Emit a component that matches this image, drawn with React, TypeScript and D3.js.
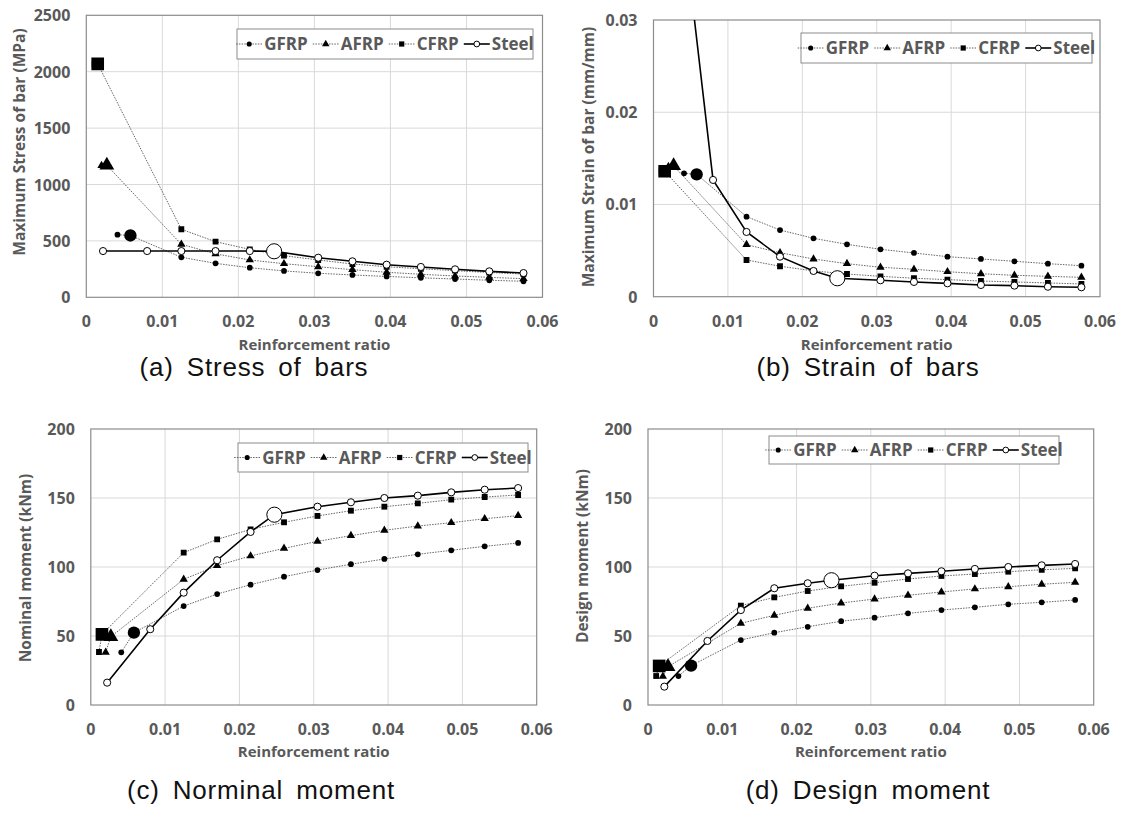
import React, { useRef, useEffect } from "react";
import * as d3 from "d3";

// reinforcement ratio of each point (first point, balanced point, then the regular steps)
const gfrpRatio = [0.0041, 0.0058, 0.0125, 0.017, 0.0215, 0.026, 0.0305, 0.035, 0.0395, 0.044, 0.0485, 0.053, 0.0575];
const afrpRatio = [0.002, 0.0027, 0.0125, 0.017, 0.0215, 0.026, 0.0305, 0.035, 0.0395, 0.044, 0.0485, 0.053, 0.0575];
const cfrpRatio = [0.0011, 0.0015, 0.0125, 0.017, 0.0215, 0.026, 0.0305, 0.035, 0.0395, 0.044, 0.0485, 0.053, 0.0575];
const steelRatio = [0.0022, 0.008, 0.0125, 0.017, 0.0215, 0.0247, 0.0305, 0.035, 0.0395, 0.044, 0.0485, 0.053, 0.0575];
// index of the balanced point (drawn with a big marker)
const balancedIdx = [1, 1, 1, 5];

const seriesNames = ["GFRP", "AFRP", "CFRP", "Steel"];

// (a) stress
const gfrpStress = [555, 548, 355, 301, 262, 234, 213, 198, 185, 173, 162, 151, 142];
const afrpStress = [1167, 1170, 470, 385, 331, 298, 271, 245, 222, 204, 189, 177, 165];
const cfrpStress = [2070, 2070, 603, 493, 425, 369, 331, 295, 271, 253, 236, 220, 206];
const steelStress = [410, 410, 410, 410, 410, 408, 351, 319, 289, 269, 248, 230, 215];

// (b) strain
const gfrpStrain = [0.01338, 0.01327, 0.00868, 0.00723, 0.00633, 0.00568, 0.00514, 0.00474, 0.00434, 0.00409, 0.00384, 0.00358, 0.00336];
const afrpStrain = [0.0141, 0.0142, 0.00564, 0.00477, 0.00409, 0.00358, 0.00319, 0.00297, 0.00271, 0.00249, 0.00232, 0.00221, 0.0021];
const cfrpStrain = [0.0136, 0.0136, 0.00398, 0.0033, 0.0028, 0.00246, 0.00221, 0.002, 0.00185, 0.0017, 0.0016, 0.00149, 0.00138];
const steelStrain = [0.053, 0.01266, 0.00702, 0.00434, 0.00279, 0.002, 0.00178, 0.0016, 0.00145, 0.00127, 0.0012, 0.00108, 0.00102];

// (c) nominal moment
const gfrpNominal = [38.2, 52.4, 71.7, 80.4, 87.2, 93, 97.8, 102, 105.8, 109.2, 112.1, 115, 117.4];
const afrpNominal = [38.2, 49.5, 91.1, 101, 108, 113.5, 118.6, 122.7, 126.6, 129.7, 132.1, 135, 137.2];
const cfrpNominal = [38.4, 51.2, 110.4, 120, 127.3, 132.4, 137, 140.8, 143.7, 146.1, 148.8, 150.7, 152.2];
const steelNominal = [16.2, 54.9, 81.4, 104.9, 125.4, 137.9, 143.7, 146.9, 150, 151.7, 154.1, 156, 157.2];

// (d) design moment
const gfrpDesign = [21, 28.5, 47.1, 52.4, 56.7, 60.7, 63.3, 66.4, 68.8, 70.8, 73, 74.4, 76.1];
const afrpDesign = [20.8, 27.8, 59.2, 65, 70.1, 73.9, 76.8, 79.5, 81.9, 84.1, 85.7, 87.5, 88.9];
const cfrpDesign = [21, 28.3, 72, 78, 82.6, 86, 88.6, 91.3, 93.5, 94.9, 96.6, 98, 99];
const steelDesign = [13.3, 46.4, 68.8, 84.6, 88.2, 90.4, 93.7, 95.4, 96.9, 98.6, 100, 101.2, 102.2];

const xTicks = [0, 0.01, 0.02, 0.03, 0.04, 0.05, 0.06];
const stressTicks = [0, 500, 1000, 1500, 2000, 2500];
const strainTicks = [0, 0.01, 0.02, 0.03];
const momentTicks = [0, 50, 100, 150, 200];

const ratios = [gfrpRatio, afrpRatio, cfrpRatio, steelRatio];

const panels = [
  {
    l: 86.3, r: 542.5, t: 15.3, b: 297.3, yMax: 2500, yTicks: stressTicks,
    yTitle: "Maximum Stress of bar (MPa)", yTitleX: 19, yTitleY: 142,
    legend: { x: 237, y: 29, w: 296, h: 30 }, xTitleY: 350,
    caption: "(a) Stress of bars", capX: 254, capY: 376,
    values: [gfrpStress, afrpStress, cfrpStress, steelStress],
  },
  {
    l: 653.5, r: 1100, t: 20, b: 296.7, yMax: 0.03, yTicks: strainTicks,
    yTitle: "Maximum Strain of bar (mm/mm)", yTitleX: 588, yTitleY: 157,
    legend: { x: 801, y: 33, w: 291, h: 30 }, xTitleY: 350,
    caption: "(b) Strain of bars", capX: 868, capY: 376,
    values: [gfrpStrain, afrpStrain, cfrpStrain, steelStrain],
  },
  {
    l: 90.8, r: 536.7, t: 429, b: 705, yMax: 200, yTicks: momentTicks,
    yTitle: "Nominal moment (kNm)", yTitleX: 25, yTitleY: 568,
    legend: { x: 238, y: 443, w: 290, h: 29 }, xTitleY: 757,
    caption: "(c) Norminal moment", capX: 261, capY: 799,
    values: [gfrpNominal, afrpNominal, cfrpNominal, steelNominal],
  },
  {
    l: 648, r: 1093.7, t: 429, b: 705, yMax: 200, yTicks: momentTicks,
    yTitle: "Design moment (kNm)", yTitleX: 582, yTitleY: 556,
    legend: { x: 769, y: 436, w: 290, h: 28 }, xTitleY: 757,
    caption: "(d) Design moment", capX: 868, capY: 799,
    values: [gfrpDesign, afrpDesign, cfrpDesign, steelDesign],
  },
];

const FONT = "'Open Sans', 'Noto Sans', sans-serif";
const GRAY = "#595959";

const symTypes = [d3.symbolCircle, d3.symbolTriangle, d3.symbolSquare, d3.symbolCircle];
const smallSize = [26, 30, 34, 40];
const bigSize = [120, 95, 160, 180];

function App() {
  const svgRef = useRef<any>();

  useEffect(() => {
    const svg = d3.select(svgRef.current);
    svg.selectAll("*").remove();

    panels.forEach((p, pi) => {
      const g = svg.append("g");
      const x = d3.scaleLinear().domain([0, 0.06]).range([p.l, p.r]);
      const y = d3.scaleLinear().domain([0, p.yMax]).range([p.b, p.t]);

      // grid
      g.selectAll(".vg")
        .data(xTicks.slice(1, -1))
        .join("line")
        .attr("x1", (d) => x(d)).attr("x2", (d) => x(d))
        .attr("y1", p.t).attr("y2", p.b)
        .attr("stroke", "#d9d9d9").attr("stroke-width", 1);
      g.selectAll(".hg")
        .data(p.yTicks.slice(1, -1))
        .join("line")
        .attr("x1", p.l).attr("x2", p.r)
        .attr("y1", (d) => y(d)).attr("y2", (d) => y(d))
        .attr("stroke", "#d9d9d9").attr("stroke-width", 1);
      g.append("rect")
        .attr("x", p.l).attr("y", p.t)
        .attr("width", p.r - p.l).attr("height", p.b - p.t)
        .attr("fill", "none").attr("stroke", "#8c8c8c").attr("stroke-width", 1.2);

      // tick labels
      g.selectAll(".xt")
        .data(xTicks)
        .join("text")
        .attr("x", (d) => x(d)).attr("y", p.b + 30)
        .attr("text-anchor", "middle")
        .attr("font-family", FONT).attr("font-weight", 700).attr("font-size", 16)
        .attr("fill", GRAY)
        .text((d) => (d === 0 ? "0" : d3.format(".2f")(d)));
      g.selectAll(".yt")
        .data(p.yTicks)
        .join("text")
        .attr("x", p.l - 16).attr("y", (d) => y(d) + 6)
        .attr("text-anchor", "end")
        .attr("font-family", FONT).attr("font-weight", 700).attr("font-size", 16)
        .attr("fill", GRAY)
        .text((d) => (d === 0 ? "0" : p.yMax < 1 ? d3.format(".2f")(d) : String(d)));

      // titles
      g.append("text")
        .attr("x", (p.l + p.r) / 2).attr("y", p.xTitleY)
        .attr("text-anchor", "middle")
        .attr("font-family", FONT).attr("font-weight", 700).attr("font-size", 15)
        .attr("fill", GRAY)
        .text("Reinforcement ratio");
      g.append("text")
        .attr("transform", `translate(${p.yTitleX + 6},${p.yTitleY}) rotate(-90)`)
        .attr("text-anchor", "middle")
        .attr("font-family", FONT).attr("font-weight", 700).attr("font-size", 15.5)
        .attr("fill", GRAY)
        .text(p.yTitle);
      g.append("text")
        .attr("x", p.capX).attr("y", p.capY)
        .attr("text-anchor", "middle")
        .attr("font-family", "'Liberation Sans', Arial, sans-serif")
        .attr("font-size", 26).attr("fill", "#111")
        .attr("letter-spacing", 0.8).attr("word-spacing", 5)
        .text(p.caption);

      // series
      const clipId = `clip${pi}`;
      g.append("clipPath").attr("id", clipId)
        .append("rect")
        .attr("x", p.l).attr("y", p.t)
        .attr("width", p.r - p.l).attr("height", p.b - p.t);
      const plot = g.append("g").attr("clip-path", `url(#${clipId})`);

      p.values.forEach((vals, si) => {
        const pts = vals.map((v, i) => [ratios[si][i], v] as [number, number]);
        const line = d3.line<[number, number]>()
          .x((d) => x(d[0]))
          .y((d) => y(d[1]));
        const steel = si === 3;
        plot.append("path")
          .attr("d", line(pts))
          .attr("fill", "none")
          .attr("stroke", steel ? "#000" : "#555")
          .attr("stroke-width", steel ? 1.6 : 0.9)
          .attr("stroke-dasharray", steel ? null : "1.5,1.2");
        plot.selectAll(`.m${si}`)
          .data(pts)
          .join("path")
          .attr("transform", (d) => `translate(${x(d[0])},${y(d[1])})`)
          .attr("d", (d, i) =>
            d3.symbol().type(symTypes[si]).size(i === balancedIdx[si] ? bigSize[si] : smallSize[si])()
          )
          .attr("fill", steel ? "#fff" : "#000")
          .attr("stroke", "#000")
          .attr("stroke-width", steel ? 1 : 0);
      });

      // legend
      const lg = g.append("g");
      lg.append("rect")
        .attr("x", p.legend.x).attr("y", p.legend.y)
        .attr("width", p.legend.w).attr("height", p.legend.h)
        .attr("fill", "#fff").attr("stroke", "#8c8c8c").attr("stroke-width", 1);
      const items = lg.append("g");
      let cx = 0;
      const cy = p.legend.y + p.legend.h / 2;
      seriesNames.forEach((name, si) => {
        const steel = si === 3;
        const it = items.append("g").attr("transform", `translate(${cx},0)`);
        it.append("line")
          .attr("x1", 0).attr("x2", 26)
          .attr("y1", cy).attr("y2", cy)
          .attr("stroke", steel ? "#000" : "#555")
          .attr("stroke-width", steel ? 1.6 : 0.9)
          .attr("stroke-dasharray", steel ? null : "1.5,1.2");
        it.append("path")
          .attr("transform", `translate(13,${cy})`)
          .attr("d", d3.symbol().type(symTypes[si]).size(steel ? 26 : smallSize[si] * 0.8)())
          .attr("fill", steel ? "#fff" : "#000")
          .attr("stroke", "#000")
          .attr("stroke-width", steel ? 1 : 0);
        const t = it.append("text")
          .attr("x", 28).attr("y", cy + 6)
          .attr("font-family", FONT).attr("font-weight", 700).attr("font-size", 17)
          .attr("fill", GRAY)
          .text(name);
        const w = (t.node() as SVGTextElement).getComputedTextLength();
        cx += 28 + w + 5;
      });
      const total = cx - 5;
      items.attr("transform", `translate(${p.legend.x + (p.legend.w - total) / 2},0)`);
    });
  }, []);

  return (
    <svg
      ref={svgRef}
      width={1121}
      height={817}
      style={{ position: "absolute", left: 0, top: 0, background: "#fff" }}
    />
  );
}

export default App;
